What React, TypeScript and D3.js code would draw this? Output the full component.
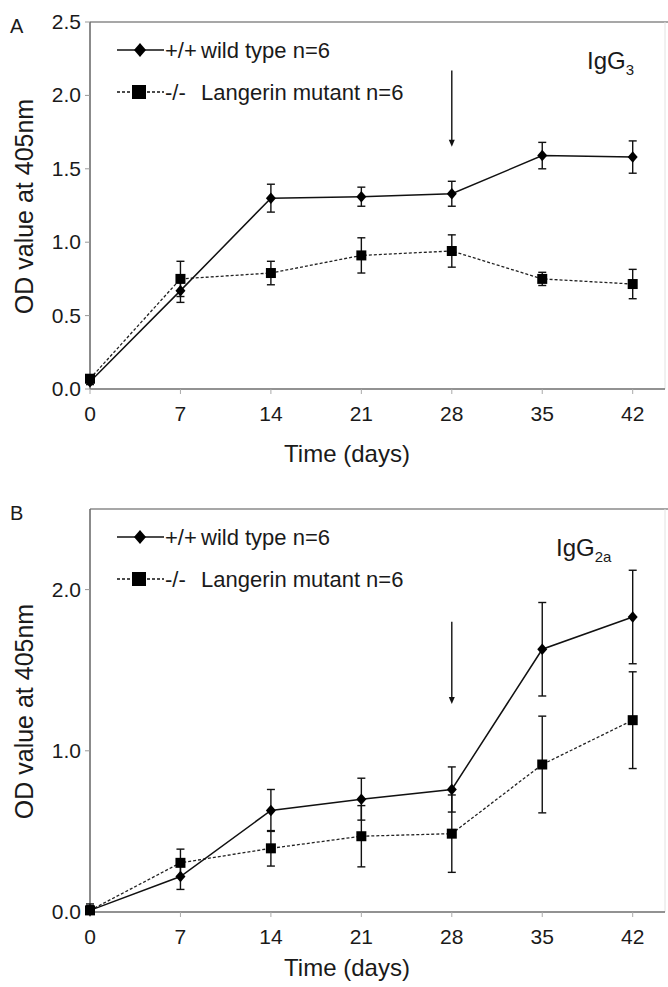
import * as d3 from 'd3'

const WIDTH = 668
const HEIGHT = 987
const FONT = '"Liberation Sans", Arial, sans-serif'

const DAYS = [0, 7, 14, 21, 28, 35, 42]

const IGG3_WT = [0.05, 0.67, 1.3, 1.31, 1.33, 1.59, 1.58]
const IGG3_WT_ERR = [0.02, 0.08, 0.095, 0.065, 0.085, 0.09, 0.11]
const IGG3_KO = [0.07, 0.75, 0.79, 0.91, 0.94, 0.75, 0.715]
const IGG3_KO_ERR = [0.02, 0.12, 0.08, 0.12, 0.11, 0.045, 0.1]

const IGG2A_WT = [0.01, 0.22, 0.63, 0.7, 0.76, 1.63, 1.83]
const IGG2A_WT_ERR = [0.04, 0.08, 0.13, 0.13, 0.14, 0.29, 0.29]
const IGG2A_KO = [0.01, 0.305, 0.395, 0.47, 0.486, 0.915, 1.19]
const IGG2A_KO_ERR = [0.03, 0.085, 0.11, 0.19, 0.24, 0.3, 0.3]

const IGG3_TICKS = [0, 0.5, 1, 1.5, 2, 2.5]
const IGG2A_TICKS = [0, 1, 2]

// arrow marks the boost day, from/to in OD units
const IGG3_ARROW = [2.17, 1.65]
const IGG2A_ARROW = [1.8, 1.29]

const LEGEND = [
  { sym: '+/+', label: 'wild type n=6', dashed: false },
  { sym: '-/-', label: 'Langerin mutant n=6', dashed: true },
]

type PanelProps = {
  letter: string
  top: number
  bottom: number
  titleGap: number
  wt: number[]
  wtErr: number[]
  ko: number[]
  koErr: number[]
  ticks: number[]
  arrow: number[]
  sub: string
  isoX: number
}

function Diamond({ x, y, r }: { x: number; y: number; r: number }) {
  return <path d={`M${x},${y - r * 1.15}L${x + r},${y}L${x},${y + r * 1.15}L${x - r},${y}Z`} fill="#000" />
}

function Panel(p: PanelProps) {
  const left = 90
  const right = 665
  const x = d3.scaleLinear().domain([0, 44.5]).range([left, right])
  const y = d3.scaleLinear().domain([0, 2.5]).range([p.bottom, p.top])
  const line = d3
    .line<number>()
    .x((_, i) => x(DAYS[i]))
    .y((v) => y(v))

  const errBars = (vals: number[], errs: number[]) =>
    vals.map((v, i) => {
      const cx = x(DAYS[i])
      const y0 = y(v + errs[i])
      const y1 = y(Math.max(0, v - errs[i]))
      return (
        <g key={i} stroke="#111" strokeWidth={1.4}>
          <line x1={cx} x2={cx} y1={y0} y2={y1} />
          <line x1={cx - 4} x2={cx + 4} y1={y0} y2={y0} />
          <line x1={cx - 4} x2={cx + 4} y1={y1} y2={y1} />
        </g>
      )
    })

  const legendY = [p.top + 28, p.top + 70]

  return (
    <g fontFamily={FONT} fill="#1a1a1a">
      <text x={10} y={p.top + 11} fontSize={20}>
        {p.letter}
      </text>

      {/* frame */}
      <line x1={left} x2={WIDTH} y1={p.top} y2={p.top} stroke="#8a8a8a" strokeWidth={1.5} />
      <line x1={right} x2={right} y1={p.top} y2={p.bottom} stroke="#e2e2e2" strokeWidth={1} />
      <line x1={left} x2={left} y1={p.top} y2={p.bottom} stroke="#6e6e6e" strokeWidth={1.6} />
      <line x1={left} x2={right} y1={p.bottom} y2={p.bottom} stroke="#6e6e6e" strokeWidth={1.6} />

      {/* y ticks */}
      {p.ticks.map((t) => (
        <g key={t}>
          <line x1={left - 5} x2={left} y1={y(t)} y2={y(t)} stroke="#999" />
          <text x={left - 9} y={y(t) + 7} fontSize={21} textAnchor="end">
            {t.toFixed(1)}
          </text>
        </g>
      ))}

      {/* x ticks */}
      {DAYS.map((d) => (
        <g key={d}>
          <line x1={x(d)} x2={x(d)} y1={p.bottom} y2={p.bottom + 5} stroke="#aaa" />
          <text x={x(d)} y={p.bottom + 32} fontSize={21} textAnchor="middle">
            {d}
          </text>
        </g>
      ))}

      <text x={347} y={p.bottom + p.titleGap} fontSize={24} textAnchor="middle">
        Time (days)
      </text>
      <text
        transform={`translate(33,${(p.top + p.bottom) / 2 + 1}) rotate(-90)`}
        fontSize={25}
        textAnchor="middle"
      >
        OD value at 405nm
      </text>

      {/* series */}
      <path d={line(p.ko) ?? ''} fill="none" stroke="#222" strokeWidth={1.3} strokeDasharray="3 2" />
      <path d={line(p.wt) ?? ''} fill="none" stroke="#111" strokeWidth={1.5} />
      {errBars(p.ko, p.koErr)}
      {errBars(p.wt, p.wtErr)}
      {p.ko.map((v, i) => (
        <rect key={i} x={x(DAYS[i]) - 5} y={y(v) - 5} width={10} height={10} fill="#000" />
      ))}
      {p.wt.map((v, i) => (
        <Diamond key={i} x={x(DAYS[i])} y={y(v)} r={5} />
      ))}

      {/* arrow */}
      <line x1={x(28)} x2={x(28)} y1={y(p.arrow[0])} y2={y(p.arrow[1]) - 5} stroke="#111" strokeWidth={1.4} />
      <path
        d={`M${x(28) - 3},${y(p.arrow[1]) - 7}L${x(28) + 3},${y(p.arrow[1]) - 7}L${x(28)},${y(p.arrow[1])}Z`}
        fill="#111"
      />

      {/* legend */}
      {LEGEND.map((item, i) => (
        <g key={item.sym}>
          <line
            x1={117}
            x2={164}
            y1={legendY[i]}
            y2={legendY[i]}
            stroke="#111"
            strokeWidth={1.4}
            strokeDasharray={item.dashed ? '3 2' : undefined}
          />
          {item.dashed ? (
            <rect x={132} y={legendY[i] - 7} width={14} height={14} fill="#000" />
          ) : (
            <Diamond x={140} y={legendY[i]} r={6} />
          )}
          <text x={165} y={legendY[i] + 8} fontSize={22}>
            {item.sym}
          </text>
          <text x={201} y={legendY[i] + 8} fontSize={22}>
            {item.label}
          </text>
        </g>
      ))}

      <text x={p.isoX} y={p.top + 47} fontSize={24}>
        IgG
        <tspan fontSize={15} dy={6}>
          {p.sub}
        </tspan>
      </text>
    </g>
  )
}

export default function App() {
  return (
    <svg
      width={WIDTH}
      height={HEIGHT}
      style={{ position: 'absolute', left: 0, top: 0, background: '#fff' }}
    >
      <Panel
        letter="A"
        top={22}
        bottom={389}
        titleGap={73}
        wt={IGG3_WT}
        wtErr={IGG3_WT_ERR}
        ko={IGG3_KO}
        koErr={IGG3_KO_ERR}
        ticks={IGG3_TICKS}
        arrow={IGG3_ARROW}
        sub="3"
        isoX={587}
      />
      <Panel
        letter="B"
        top={509}
        bottom={912}
        titleGap={64}
        wt={IGG2A_WT}
        wtErr={IGG2A_WT_ERR}
        ko={IGG2A_KO}
        koErr={IGG2A_KO_ERR}
        ticks={IGG2A_TICKS}
        arrow={IGG2A_ARROW}
        sub="2a"
        isoX={556}
      />
    </svg>
  )
}
